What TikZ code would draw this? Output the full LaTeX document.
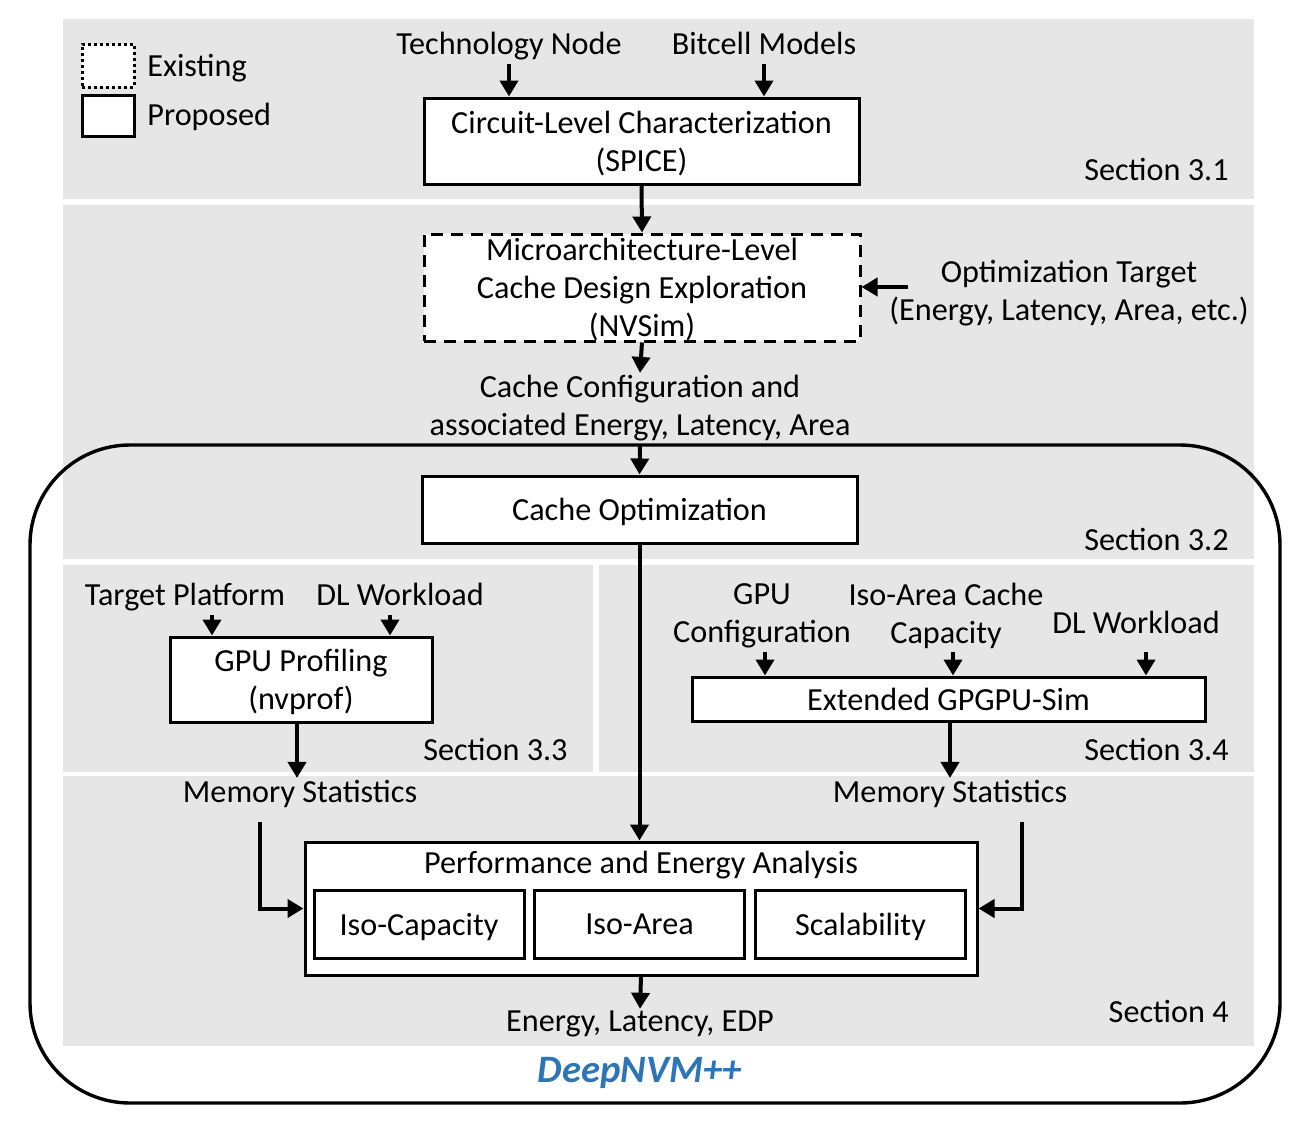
\documentclass[tikz,border=0pt]{standalone}
\usepackage{fontspec}
\setmainfont{Carlito}
\usetikzlibrary{arrows.meta}
\definecolor{panelgray}{RGB}{230,230,230}
\definecolor{nvmblue}{RGB}{46,117,182}

\tikzset{
  box/.style={draw, line width=1.5pt, fill=white, align=center, inner sep=0pt, text depth=0pt},
  existbox/.style={box, dash pattern=on 6pt off 4pt},
  lbl/.style={align=center, inner sep=1pt, text depth=3.5pt, yshift=-1.5pt},
  sect/.style={anchor=east, inner sep=0pt, text depth=3.5pt, yshift=-1.5pt},
  arr/.style={-{Triangle[length=8pt,width=9pt]}, line width=2pt},
}

\begin{document}
\begin{tikzpicture}[x=0.5pt, y=-0.5pt, font=\fontsize{16.1}{19}\selectfont]
  \useasboundingbox (0,0) rectangle (1312,1120);
  % gray section panels
  \fill[panelgray] (63,19) rectangle (1254,199);
  \fill[panelgray] (63,205) rectangle (1254,559);
  \fill[panelgray] (63,565) rectangle (593,772);
  \fill[panelgray] (599,565) rectangle (1254,772);
  \fill[panelgray] (63,776) rectangle (1254,1046);
  % DeepNVM++ frame
  \draw[line width=1.7pt, rounded corners=50pt] (30,445) rectangle (1280,1103);

  % legend
  \node[box, dash pattern=on 1.5pt off 1.5pt, minimum width=26pt, minimum height=21.5pt] (legexist) at (108,65.5) {};
  \node[box, minimum width=26pt, minimum height=20.5pt] (legprop) at (108,115.5) {};
  \node[lbl, anchor=west, inner sep=0pt] (legexisttxt) at (147,66) {Existing};
  \node[lbl, anchor=west, inner sep=0pt] (legproptxt) at (147,115) {Proposed};

  % section 3.1
  \node[lbl] (tech) at (509,44) {Technology Node};
  \node[lbl] (bitcell) at (764,44) {Bitcell Models};
  \node[box, minimum width=217.5pt, minimum height=43pt] (circuit) at (641.5,141) {Circuit-Level Characterization\\(SPICE)};
  \node[sect] (sec31) at (1229,170) {Section 3.1};

  % section 3.2
  \node[existbox, minimum width=218pt, minimum height=53.5pt] (nvsim) at (642,287.5) {Microarchitecture-Level\\Cache Design Exploration\\(NVSim)};
  \node[lbl] (opttgt) at (1069,291) {Optimization Target\\(Energy, Latency, Area, etc.)};
  \node[lbl] (config) at (640,406) {Cache Configuration and\\associated Energy, Latency, Area};
  \node[box, minimum width=217.5pt, minimum height=33.5pt] (cacheopt) at (639.5,509.5) {Cache Optimization};
  \node[sect] (sec32) at (1229,540) {Section 3.2};

  % section 3.3
  \node[lbl] (tplat) at (185,595) {Target Platform};
  \node[lbl] (dlwl) at (400,595) {DL Workload};
  \node[box, minimum width=131pt, minimum height=42.5pt] (gpuprof) at (301,679.5) {GPU Profiling\\(nvprof)};
  \node[sect] (sec33) at (568,750) {Section 3.3};
  \node[lbl] (meml) at (300,792) {Memory Statistics};

  % section 3.4
  \node[lbl] (gpucfg) at (762,614) {GPU\\Configuration};
  \node[lbl] (isocache) at (946,614) {Iso-Area Cache\\Capacity};
  \node[lbl] (dlwr) at (1136,623) {DL Workload};
  \node[box, minimum width=256.5pt, minimum height=22pt] (ext) at (948.5,699) {Extended GPGPU-Sim};
  \node[sect] (sec34) at (1229,750) {Section 3.4};
  \node[lbl] (memr) at (950,792) {Memory Statistics};

  % section 4
  \node[box, minimum width=336pt, minimum height=66.5pt] (perf) at (641,908.5) {};
  \node[lbl] (perftitle) at (641,863) {Performance and Energy Analysis};
  \node[box, minimum width=105pt, minimum height=34pt] (isocap) at (419,924) {Iso-Capacity};
  \node[box, minimum width=105pt, minimum height=34pt] (isoarea) at (639.5,924) {Iso-Area};
  \node[box, minimum width=105pt, minimum height=34pt] (scal) at (860.5,924) {Scalability};
  \node[lbl] (results) at (640,1022) {Energy, Latency, EDP};
  \node[sect] (sec4) at (1229,1012) {Section 4};
  \node[lbl, text=nvmblue, font=\fontsize{19.4}{22}\selectfont\bfseries\itshape] (deepnvm) at (640,1070) {DeepNVM++};

  % connectors
  \coordinate (optin) at (908,287);
  \coordinate (memlout) at (260,822);
  \coordinate (memrout) at (1022,822);
  \draw[arr] (tech.south) -- (tech.south |- circuit.north);
  \draw[arr] (bitcell.south) -- (bitcell.south |- circuit.north);
  \draw[arr] (circuit.south) -- (nvsim.north);
  \draw[arr] (optin) -- (optin -| nvsim.east);
  \draw[arr] (nvsim.south) -- (config.north);
  \draw[arr] (config.south) -- (cacheopt.north);
  \draw[arr] (cacheopt.south) -- (cacheopt.south |- perf.north);
  \draw[arr] (tplat.south -| 212,0) -- (212,0 |- gpuprof.north);
  \draw[arr] (dlwl.south -| 390,0) -- (390,0 |- gpuprof.north);
  \draw[arr] (gpuprof.south -| 297,0) -- (297,0 |- meml.north);
  \draw[arr] (memlout) |- (perf.west);
  \draw[arr] (765,0 |- gpucfg.south) -- (765,0 |- ext.north);
  \draw[arr] (953,0 |- gpucfg.south) -- (953,0 |- ext.north);
  \draw[arr] (1146,0 |- gpucfg.south) -- (1146,0 |- ext.north);
  \draw[arr] (ext.south -| 950,0) -- (950,0 |- memr.north);
  \draw[arr] (memrout) |- (perf.east);
  \draw[arr] (perf.south) -- (results.north);
\end{tikzpicture}
\end{document}
